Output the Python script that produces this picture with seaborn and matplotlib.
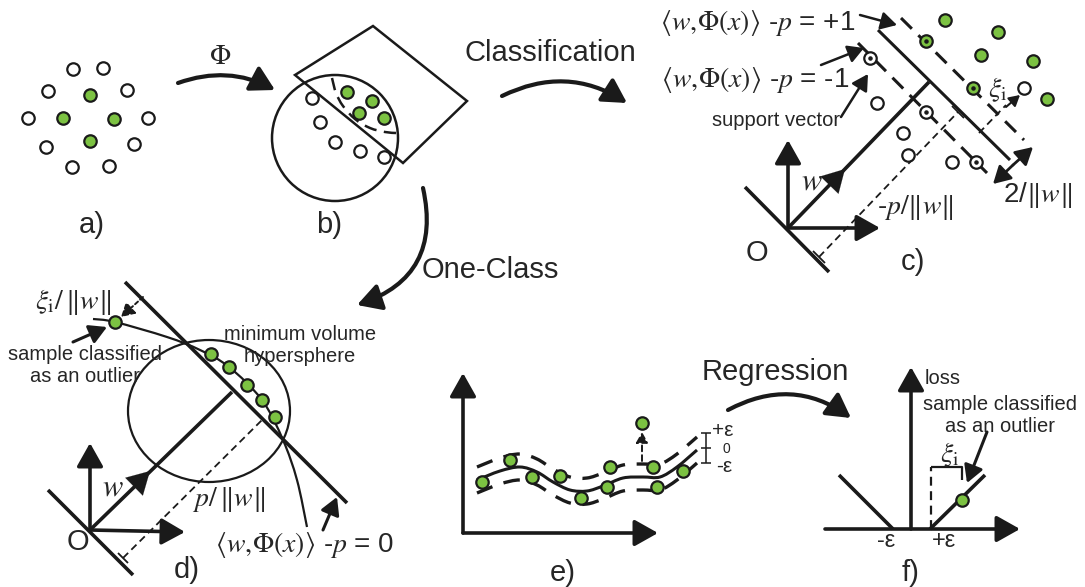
import numpy as np
import pandas as pd
import matplotlib
matplotlib.use("Agg")
import matplotlib.pyplot as plt
import seaborn as sns
from matplotlib.patches import FancyArrowPatch, PathPatch, Circle, Ellipse, Polygon
from matplotlib.path import Path

# point sets (pixel positions, y down)
a_open_x = [73, 103, 48, 127, 28, 148, 46, 134, 72, 109]
a_open_y = [69, 68, 91, 90, 118, 118, 147, 144, 167, 166]
a_green_x = [90, 63, 114, 90]
a_green_y = [95, 118, 119, 141]

b_open_x = [312, 320, 335, 360, 384]
b_open_y = [98, 122, 142, 151, 157]
b_green_x = [347, 372, 359, 384]
b_green_y = [92, 101, 113, 118]

c_green_x = [945, 998, 981, 1033, 1047]
c_green_y = [20, 32, 55, 61, 99]
c_green_sv_x = [926, 973]
c_green_sv_y = [41, 88]
c_open_x = [877, 903, 908, 952, 1024]
c_open_y = [103, 133, 155, 162, 88]
c_open_sv_x = [870, 926, 976]
c_open_sv_y = [58, 112, 162]

d_green_x = [115, 211, 229, 247, 262, 275]
d_green_y = [322, 354, 367, 385, 400, 417]

e_green_x = [482, 510, 532, 560, 581, 607, 610, 653, 657, 683, 642]
e_green_y = [482, 460, 477, 476, 498, 487, 467, 467, 487, 471, 423]
e_curve_x = [477, 500, 520, 537, 553, 570, 587, 603, 623, 643, 660, 677, 697]
e_curve_y = [480, 471, 467, 472, 482, 490, 491, 486, 478, 477, 477, 467, 450]
eps = 13

f_green_x = [962]
f_green_y = [500]

GREEN = "#7cc242"

sns.set_theme(style="white")
plt.rcParams["font.family"] = ["Liberation Sans", "DejaVu Sans"]
plt.rcParams["mathtext.fontset"] = "stix"

fig = plt.figure(figsize=(10.85, 5.87), dpi=100)
ax = fig.add_axes([0, 0, 1, 1])
ax.set_xlim(0, 1085)
ax.set_ylim(587, 0)
ax.axis("off")


def smooth(xs, ys):
    P = np.column_stack([xs, ys]).astype(float)
    verts = [P[0]]
    codes = [Path.MOVETO]
    for i in range(len(P) - 1):
        p0 = P[i - 1] if i > 0 else P[i]
        p1, p2 = P[i], P[i + 1]
        p3 = P[i + 2] if i + 2 < len(P) else P[i + 1]
        verts += [p1 + (p2 - p0) / 6, p2 - (p3 - p1) / 6, p2]
        codes += [Path.CURVE4] * 3
    return Path(verts, codes)


def arrow(a, b, lw=2.2, rad=0.0, hl=0.8, hw=0.45, ms=16, ls="-"):
    ax.add_patch(FancyArrowPatch(a, b, arrowstyle=f"-|>,head_length={hl},head_width={hw}",
                                 connectionstyle=f"arc3,rad={rad}", mutation_scale=ms,
                                 lw=lw, color="k", shrinkA=0, shrinkB=0, linestyle=ls, zorder=3))


def line(xs, ys, lw=2.2, ls="-"):
    ax.plot(xs, ys, color="k", lw=lw, ls=ls, solid_capstyle="butt", zorder=2)


def dots(xs, ys, fill, s=80):
    df = pd.DataFrame({"x": xs, "y": ys})
    sns.scatterplot(data=df, x="x", y="y", ax=ax, color=fill, edgecolor="k",
                    linewidth=1.6, s=s, zorder=5, legend=False)


def centre_dots(xs, ys):
    ax.scatter(xs, ys, s=5, color="k", zorder=6)


BIG = 21
SMALL = 14.5

# ---------- a) ----------
dots(a_open_x, a_open_y, "white")
dots(a_green_x, a_green_y, GREEN)
ax.text(92, 225, "a)", fontsize=BIG, ha="center", va="center")

arrow((178, 83), (275, 90), lw=3, rad=-0.22, ms=18)
ax.text(220, 57, r"$\mathrm{\Phi}$", fontsize=20, ha="center", va="center")

# ---------- b) ----------
ax.add_patch(Circle((335, 138), 63, fill=False, lw=1.8, color="k"))
ax.add_patch(Polygon([(295, 75), (373, 26), (467, 101), (403, 163)], closed=True,
                     fill=False, lw=1.8, ec="k"))
ax.add_patch(PathPatch(smooth([332, 336, 343, 355, 370, 385, 396], [78, 93, 106, 119, 128, 132, 133]),
                       fill=False, lw=1.8, ls=(0, (5, 3)), ec="k"))
dots(b_open_x, b_open_y, "white")
dots(b_green_x, b_green_y, GREEN)
ax.text(329, 225, "b)", fontsize=BIG, ha="center", va="center")

# ---------- arrows between panels ----------
arrow((502, 96), (627, 103), lw=3, rad=-0.28, ms=18)
ax.text(550, 53, "Classification", fontsize=BIG, ha="center", va="center")
arrow((423, 188), (357, 305), lw=3, rad=-0.45, ms=18)
ax.text(490, 270, "One-Class", fontsize=BIG, ha="center", va="center")
arrow((728, 410), (851, 418), lw=3, rad=-0.31, ms=18)
ax.text(775, 372, "Regression", fontsize=BIG, ha="center", va="center")

# ---------- c) ----------
line([745, 829], [187, 272], lw=2.6)
arrow((788, 228), (788, 140), lw=2.6, ms=18)
arrow((788, 228), (880, 228), lw=2.6, ms=18)
line([788, 929], [228, 82], lw=2.6)
arrow((788, 228), (845, 169), lw=0.1, ms=20)
line([878, 1010], [30, 160], lw=2.2)
line([901, 1024], [18, 140], lw=2.2, ls=(0, (5, 3)))
line([858, 987], [43, 173], lw=2.2, ls=(0, (5, 3)))
line([819, 958], [257, 112], lw=1.3, ls=(0, (4, 2.5)))
line([813, 825], [251, 263], lw=1.3)
line([952, 964], [106, 118], lw=1.3)
line([979, 1006], [133, 105], lw=1.3, ls=(0, (4, 2.5)))
arrow((1013, 165), (993, 184), lw=2, ms=13)
arrow((1013, 165), (1033, 147), lw=2, ms=13)
dots(c_green_x, c_green_y, GREEN)
dots(c_green_sv_x, c_green_sv_y, GREEN)
centre_dots(c_green_sv_x, c_green_sv_y)
dots(c_open_x, c_open_y, "white")
dots(c_open_sv_x, c_open_sv_y, "white")
centre_dots(c_open_sv_x, c_open_sv_y)

ax.text(758, 23, r"$\langle w,\!\Phi(x)\rangle$ -$p$ = +1", fontsize=20, ha="center", va="center")
ax.text(755, 80, r"$\langle w,\!\Phi(x)\rangle$ -$p$ = -1", fontsize=20, ha="center", va="center")
arrow((860, 15), (897, 25), lw=1.8, ms=12)
arrow((821, 65), (864, 48), lw=1.8, ms=12)
ax.text(776, 120, "support vector", fontsize=SMALL, ha="center", va="center")
arrow((841, 117), (868, 74), lw=1.8, ms=12)
ax.text(998, 90, r"$\xi_{\mathrm{i}}$", fontsize=20, ha="center", va="center")
arrow((1006, 107), (1020, 95), lw=1.5, ms=8)
ax.text(812, 181, r"$w$", fontsize=22, ha="center", va="center")
ax.text(757, 253, "O", fontsize=BIG, ha="center", va="center")
ax.text(915, 207, r"-$p/\Vert w\Vert$", fontsize=20, ha="center", va="center")
ax.text(1038, 195, r"2/$\Vert w\Vert$", fontsize=20, ha="center", va="center")
ax.text(913, 262, "c)", fontsize=BIG, ha="center", va="center")

# ---------- d) ----------
line([48, 133], [490, 575], lw=2.6)
arrow((90, 530), (90, 443), lw=2.6, ms=18)
arrow((90, 530), (185, 532), lw=2.6, ms=18)
line([90, 232], [530, 392], lw=2.6)
arrow((90, 530), (150, 471), lw=0.1, ms=20)
line([125, 347], [282, 503], lw=2.6)
line([123, 262], [558, 420], lw=1.3, ls=(0, (4, 2.5)))
line([118, 128], [553, 563], lw=1.3)
ax.add_patch(Ellipse((209, 411), 162, 142, fill=False, lw=1.6, ec="k"))
ax.add_patch(PathPatch(smooth([93, 115, 167, 200, 229, 262, 283, 297, 307],
                              [319, 322, 337, 350, 367, 400, 440, 480, 527]),
                       fill=False, lw=1.6, ec="k"))
arrow((143, 297), (121, 317), lw=1.4, ls=(0, (2, 1.5)), ms=10)
arrow((73, 342), (107, 327), lw=2.2, ms=13)
dots(d_green_x, d_green_y, GREEN)
ax.text(73, 302, r"$\xi_{\mathrm{i}}/\,\Vert w\Vert$", fontsize=20, ha="center", va="center")
ax.text(85, 366, "sample classified\nas an outlier", fontsize=SMALL, ha="center", va="center",
        linespacing=1.2)
ax.text(300, 346, "minimum volume\nhypersphere", fontsize=SMALL, ha="center", va="center",
        linespacing=1.2)
ax.text(229, 500, r"$p/\,\Vert w\Vert$", fontsize=20, ha="center", va="center")
ax.text(113, 487, r"$w$", fontsize=22, ha="center", va="center")
ax.text(78, 542, "O", fontsize=BIG, ha="center", va="center")
ax.text(187, 570, "d)", fontsize=BIG, ha="center", va="center")
ax.text(305, 545, r"$\langle w,\!\Phi(x)\rangle$ -$p$ = 0", fontsize=20, ha="center", va="center")
arrow((323, 530), (337, 497), lw=2.2, ms=13)

# ---------- e) ----------
arrow((463, 533), (463, 373), lw=2.6, ms=18)
arrow((463, 533), (658, 533), lw=2.6, ms=18)
ax.add_patch(PathPatch(smooth(e_curve_x, e_curve_y), fill=False, lw=2.2, ec="k"))
ax.add_patch(PathPatch(smooth(e_curve_x, np.array(e_curve_y) - eps), fill=False, lw=2.4,
                       ls=(0, (5, 3.5)), ec="k"))
ax.add_patch(PathPatch(smooth(e_curve_x, np.array(e_curve_y) + eps), fill=False, lw=2.4,
                       ls=(0, (5, 3.5)), ec="k"))
arrow((642, 461), (642, 432), lw=1.4, ls=(0, (3, 2)), ms=8)
dots(e_green_x, e_green_y, GREEN)
line([706, 706], [433, 463], lw=1.1)
line([701, 711], [433, 433], lw=1.1)
line([701, 711], [448, 448], lw=1.1)
line([701, 711], [463, 463], lw=1.1)
ax.text(723, 431, "+ε", fontsize=15, ha="center", va="center")
ax.text(726, 449, "0", fontsize=10, ha="center", va="center")
ax.text(724, 467, "-ε", fontsize=15, ha="center", va="center")
ax.text(563, 573, "e)", fontsize=BIG, ha="center", va="center")

# ---------- f) ----------
arrow((825, 529), (1020, 529), lw=2.6, ms=18)
arrow((911, 529), (911, 367), lw=2.6, ms=18)
line([839, 893], [475, 529], lw=2.6)
line([930, 985], [529, 475], lw=2.6)
line([931, 931], [529, 467], lw=1.6, ls=(0, (4, 2.5)))
line([931, 962, 962], [467, 467, 480], lw=1.6)
dots(f_green_x, f_green_y, GREEN)
ax.text(950, 455, r"$\xi_{\mathrm{i}}$", fontsize=20, ha="center", va="center")
ax.text(925, 378, "loss", fontsize=SMALL, ha="left", va="center")
ax.text(1000, 415, "sample classified\nas an outlier", fontsize=SMALL, ha="center", va="center",
        linespacing=1.2)
arrow((987, 432), (967, 483), lw=2.2, ms=13)
ax.text(886, 541, "-ε", fontsize=17, ha="center", va="center")
ax.text(944, 541, "+ε", fontsize=17, ha="center", va="center")
ax.text(911, 573, "f)", fontsize=BIG, ha="center", va="center")

fig.savefig("out.png", dpi=100, facecolor="white")
